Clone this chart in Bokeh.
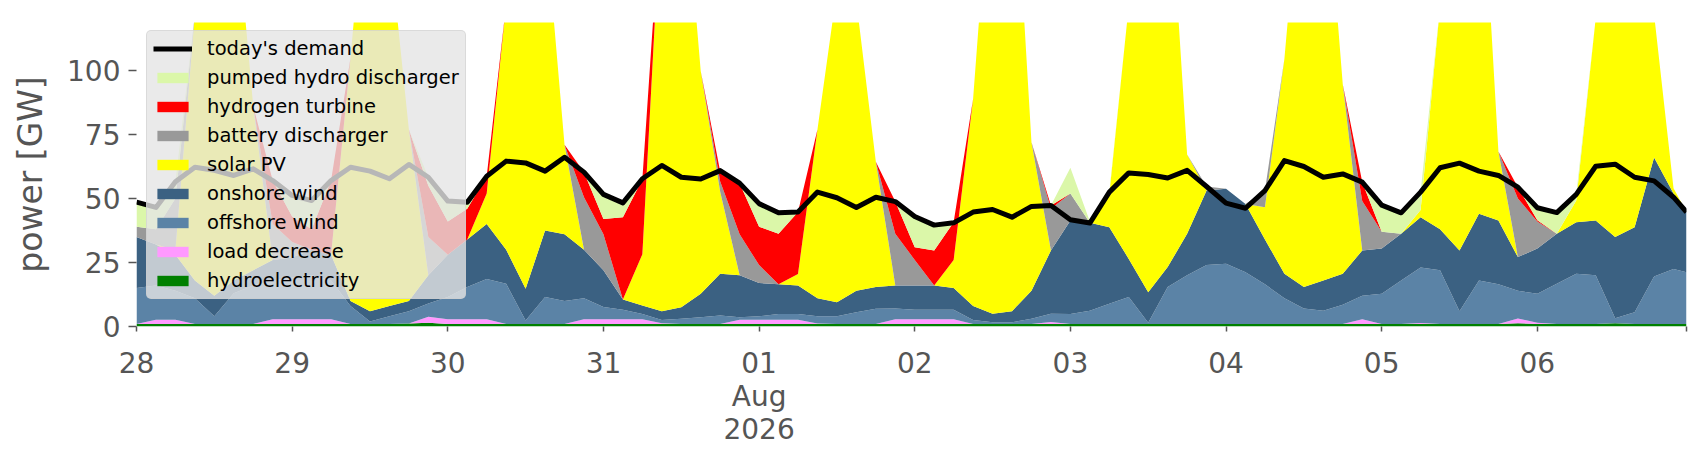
from bokeh.plotting import figure
from bokeh.models import ColumnDataSource, Range1d, FixedTicker, Legend, LegendItem
from bokeh.embed import file_html
from bokeh.resources import INLINE

# hours since 2026-07-28 00:00 (3-hourly samples + last hour)
HOURS = list(range(0, 238, 3)) + [239]
DAY_TICKS = [0, 24, 48, 72, 96, 120, 144, 168, 192, 216, 239]
DAY_LABELS = ["28", "29", "30", "31", "01\nAug\n2026", "02", "03", "04", "05", "06", ""]

hydroelectricity = [
    1.0, 1.0, 1.0, 1.0, 1.0, 1.0, 1.0, 1.0,
    1.0, 1.0, 1.0, 1.0, 1.0, 1.0, 1.2, 1.5,
    1.0, 1.0, 1.0, 1.0, 1.0, 1.0, 1.0, 1.0,
    1.0, 1.0, 1.0, 1.0, 1.0, 1.0, 1.0, 1.0,
    1.0, 1.0, 1.0, 1.0, 1.0, 1.0, 1.0, 1.0,
    1.0, 1.0, 1.0, 1.0, 1.0, 1.0, 1.0, 1.0,
    1.0, 1.0, 1.0, 1.0, 1.0, 1.0, 1.0, 1.0,
    1.0, 1.0, 1.0, 1.0, 1.0, 1.0, 1.0, 1.0,
    1.0, 1.0, 1.0, 1.0, 1.0, 1.0, 1.0, 1.3,
    1.0, 1.0, 1.0, 1.0, 1.3, 1.0, 1.0, 1.0,
    1.0]
load_decrease = [
    0, 1.6, 1.6, 0, 0, 0, 0, 1.8,
    1.8, 1.8, 1.8, 0, 0, 0, 0, 2.3,
    1.8, 1.8, 1.8, 0, 0, 0, 0, 1.8,
    1.8, 1.8, 1.8, 0.3, 0, 0, 0, 1.6,
    1.6, 1.6, 1.6, 0.2, 0, 0, 0, 1.8,
    1.8, 1.8, 1.8, 0, 0, 0, 0, 0.8,
    0, 0, 0, 0, 0, 0, 0, 0,
    0, 0, 0, 0, 0, 0, 0, 1.8,
    0, 0, 0.4, 0, 0, 0, 0, 1.8,
    0.5, 0, 0, 0, 0, 0, 0, 0,
    0]
offshore_wind = [
    14.0, 13.4, 11.4, 10.0, 3.0, 12.0, 15.0, 15.2,
    16.2, 17.2, 15.2, 7.0, 1.0, 3.0, 4.8, 5.2,
    8.7, 12.6, 15.8, 15.7, 1.3, 10.5, 9.0, 8.2,
    4.8, 3.7, 2.1, 1.2, 2.0, 2.6, 3.3, 1.0,
    1.4, 2.3, 2.3, 2.8, 3.0, 4.6, 5.9, 4.2,
    3.7, 3.7, 3.7, 1.5, 0.7, 0.7, 2.0, 3.2,
    3.9, 5.2, 7.9, 10.5, 0.5, 14.4, 19.0, 23.0,
    23.5, 20.2, 15.5, 10.0, 6.0, 5.2, 7.5, 9.2,
    11.8, 17.0, 21.6, 21.0, 5.0, 17.0, 15.5, 10.9,
    11.3, 15.7, 19.6, 19.0, 1.9, 4.6, 18.5, 21.5,
    20.2]
onshore_wind = [
    20, 16, 14, 7, 8, 5, 6, 8,
    8, 10, 10, 2, 4, 4, 4, 11,
    16.5, 18.6, 21.4, 13.3, 12.4, 26, 26, 19,
    14.4, 4, 3.3, 3.5, 4.5, 9.2, 16.3, 16.4,
    13, 11.6, 11.1, 7, 5.5, 8.4, 8.5, 9,
    9.5, 9.5, 8.5, 5.5, 3.3, 4.3, 11, 24.7,
    36.5, 34.3, 29.9, 14.9, 11.9, 7.8, 16.2, 29.1,
    29.3, 26.7, 17.5, 9.6, 8.4, 11.8, 12.1, 17.7,
    17.7, 18.2, 19.7, 16, 23.7, 26, 24.9, 13.1,
    17.7, 19.5, 20.1, 21.4, 31.8, 33.2, 46.5, 29.5,
    23.5]
solar_pv = [
    0, 0, 2, 104, 173, 152, 64, 0,
    0, 0, 0, 95, 184, 142, 67, 0,
    0, 0, 12, 96, 175, 122, 35, 0,
    0, 0, 20, 164, 182, 87, 32, 0,
    0, 0, 4.5, 66, 122, 113, 49, 0,
    0, 0, 11, 81, 185, 194, 58, 0,
    0, 0, 13, 99, 177, 163, 31, 0,
    0, 0, 12.6, 84, 175, 172, 74, 0,
    0, 0, 2.8, 87, 165, 156, 27, 0,
    0, 0, 8.5, 79, 160, 151, 56, 2,
    0]
battery_discharger = [
    4, 6, 20, 0, 0, 0, 0, 14,
    6, 0, 0, 0, 0, 0, 0, 15,
    0, 0, 0, 0, 0, 0, 0, 20.5,
    14, 0, 0, 0, 0, 0, 4, 16,
    7, 0, 0, 0, 0, 0, 0, 20.2,
    10, 0, 0, 0, 0, 0, 0, 16.3,
    10.6, 0, 0, 0, 0, 0, 0, 1.6,
    0, 0, 6.5, 0, 0, 0, 0, 19.3,
    6.5, 0, 0, 0, 0, 0, 0, 22.9,
    10.5, 0, 0, 0, 0, 0, 0, 0,
    0]
hydrogen_turbine = [
    0, 0, 0, 0, 0, 0, 0, 17,
    10, 8, 29, 0, 0, 0, 0, 20,
    13, 12, 6.7, 0, 0, 0, 0, 9.8,
    6, 32.2, 29.3, 0, 0, 0, 3.9, 20,
    15, 19.7, 24.2, 0, 0, 0, 0, 12.6,
    5, 13.7, 14.7, 0, 0, 0, 0, 1.3,
    0, 0, 0, 0, 0, 0, 0, 0,
    0, 0, 0, 0, 0, 0, 0, 7.4,
    0, 0, 0, 0, 0, 0, 0, 4.4,
    0.5, 0, 0, 0, 0, 0, 0, 0,
    0]
pumped_hydro_discharger = [
    9.6, 8.5, 6.5, 0, 0, 0, 0, 0,
    8.2, 11.2, 0, 0, 0, 0, 0, 3.3,
    8, 2.5, 0, 0, 0, 0, 0, 0,
    9.6, 5.6, 0, 0, 0, 0, 0, 0,
    9, 8.2, 0, 0, 0, 0, 0, 0,
    12, 9.9, 0, 0, 0, 0, 0, 0,
    10, 0.5, 0.7, 0, 0, 0, 0, 0,
    0, 0, 0, 0, 0, 0, 0, 0,
    10.4, 8.2, 7, 0, 0, 0, 0, 0,
    4.9, 8.3, 2.4, 0, 0, 0, 0, 0,
    0]
todays_demand = [
    48.6, 46.5, 56.5, 62.2, 61, 59, 61.6, 57,
    51.2, 49.2, 57, 62.2, 60.7, 57.7, 63.3, 58.3,
    49, 48.5, 58.7, 64.6, 63.9, 60.7, 66.1, 60.3,
    51.6, 48.3, 57.7, 62.9, 58.3, 57.6, 60.9, 56,
    48, 44.4, 44.7, 52.5, 50.3, 46.5, 50.5, 48.8,
    43, 39.6, 40.5, 44.7, 45.7, 42.7, 46.9, 47.3,
    41.7, 40.4, 52.5, 60, 59.4, 58, 61, 54.7,
    48.2, 46.2, 53.1, 64.8, 62.5, 58.3, 59.6, 56.4,
    47.4, 44.4, 52.5, 62, 63.8, 60.7, 59, 54.4,
    46.4, 44.5, 51.6, 62.6, 63.4, 58.3, 56.9, 50.5,
    44.7]

# stacking order, bottom -> top
STACK = ["hydroelectricity", "load decrease", "offshore wind", "onshore wind",
         "solar PV", "battery discharger", "hydrogen turbine", "pumped hydro discharger"]
VALUES = [hydroelectricity, load_decrease, offshore_wind, onshore_wind,
          solar_pv, battery_discharger, hydrogen_turbine, pumped_hydro_discharger]
COLORS = ["#008000", "#ff99ff", "#5b83a6", "#3b6182",
          "#ffff00", "#999999", "#ff0000", "#dbf7a9"]

keys = ["s%d" % i for i in range(len(STACK))]
data = {"x": HOURS, "demand": todays_demand}
for k, v in zip(keys, VALUES):
    data[k] = v
source = ColumnDataSource(data)

FONT = "DejaVu Sans"
GREY = "#555555"
FRAME_H = 304

p = figure(frame_width=1550, frame_height=FRAME_H,
           x_range=Range1d(0, 239), y_range=Range1d(0, 118.75),
           output_backend="svg", toolbar_location=None,
           min_border_left=136, min_border_top=22, min_border_right=4, min_border_bottom=118,
           background_fill_color="white", border_fill_color="white")
p.outline_line_color = None
p.grid.visible = False

areas = p.varea_stack(stackers=keys, x="x", color=COLORS, source=source)
line = p.line("x", "demand", source=source, line_color="black", line_width=5, line_join="round")

# axes
p.xaxis.ticker = FixedTicker(ticks=DAY_TICKS)
p.xaxis.major_label_overrides = {t: l for t, l in zip(DAY_TICKS, DAY_LABELS)}
p.yaxis.ticker = FixedTicker(ticks=[0, 25, 50, 75, 100])
for ax in (p.xaxis, p.yaxis):
    ax.axis_line_color = None
    ax.major_tick_line_color = GREY
    ax.major_tick_line_width = 1.5
    ax.major_tick_in = 0
    ax.minor_tick_line_color = None
    ax.major_label_text_font = FONT
    ax.major_label_text_font_size = "28px"
    ax.major_label_text_color = GREY
p.xaxis.major_tick_out = 5
p.xaxis.major_label_standoff = 15
p.xaxis.major_label_text_line_height = 1.0
p.yaxis.major_tick_out = 8
p.yaxis.major_label_standoff = 8
p.yaxis.axis_label = "power [GW]"
p.yaxis.axis_label_text_font = FONT
p.yaxis.axis_label_text_font_size = "33px"
p.yaxis.axis_label_text_font_style = "normal"
p.yaxis.axis_label_text_color = GREY
p.yaxis.axis_label_standoff = 14

items = [LegendItem(label="today's demand", renderers=[line])]
for name, r in reversed(list(zip(STACK, areas))):
    items.append(LegendItem(label=name, renderers=[r]))

legend = Legend(items=items, location=(10, 27), margin=0,
                padding=6, spacing=6,
                glyph_width=39, glyph_height=13, label_standoff=15, label_height=23,
                label_text_font=FONT, label_text_font_size="19.5px", label_text_color="black",
                background_fill_color="#e5e5e5", background_fill_alpha=0.8,
                border_line_color="#cccccc", border_line_width=1)
try:
    legend.border_radius = 5
except Exception:
    pass
p.add_layout(legend)

open("out.html", "w").write(file_html(p, INLINE))
